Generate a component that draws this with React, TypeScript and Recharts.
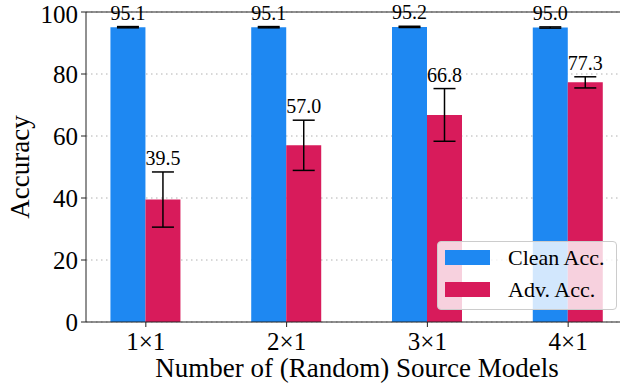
import { Bar, BarChart, CartesianGrid, ErrorBar, LabelList, Legend, ReferenceLine, XAxis, YAxis } from "recharts";

const CATEGORIES = ["1×1", "2×1", "3×1", "4×1"];
const CLEAN_ACC = [95.1, 95.1, 95.2, 95.0];
const CLEAN_ERR = [0.2, 0.2, 0.2, 0.2];
const ADV_ACC = [39.5, 57.0, 66.8, 77.3];
const ADV_ERR = [8.9, 8.1, 8.5, 1.8];
const Y_TICKS = [0, 20, 40, 60, 80, 100];
const SERIES_ORDER = ["Clean Acc.", "Adv. Acc."];

const BLUE = "#1e88f2";
const RED = "#d81b5b";
const FONT = "'Liberation Serif', 'DejaVu Serif', serif";

const data = CATEGORIES.map((c, i) => ({
  x: i,
  name: c,
  clean: CLEAN_ACC[i],
  cleanErr: CLEAN_ERR[i],
  adv: ADV_ACC[i],
  advErr: ADV_ERR[i],
}));

// label sits above the top of the error bar
function valueLabel(errs: number[]) {
  return (props: any) => {
    const { x, y, width, height, value, index } = props;
    const perUnit = height / value;
    const top = y - errs[index] * perUnit;
    return (
      <text x={x + width / 2} y={top - 7} textAnchor="middle" fontSize={20} fontFamily={FONT} fill="#000">
        {Number(value).toFixed(1)}
      </text>
    );
  };
}

function LegendBox({ payload }: any) {
  const items = [...(payload || [])].sort(
    (a: any, b: any) => SERIES_ORDER.indexOf(a.value) - SERIES_ORDER.indexOf(b.value)
  );
  return (
    <div
      style={{
        background: "rgba(255,255,255,0.8)",
        border: "1px solid #cccccc",
        borderRadius: 4,
        padding: "0 11px 4px 7px",
        fontFamily: FONT,
        fontSize: 22,
      }}
    >
      {items.map((p: any) => (
        <div key={p.value} style={{ display: "flex", alignItems: "center", height: 31.5, lineHeight: "31.5px" }}>
          <span style={{ display: "inline-block", width: 45, height: 15, background: p.color, marginRight: 18 }} />
          <span>{p.value}</span>
        </div>
      ))}
    </div>
  );
}

export default function App() {
  return (
    <div style={{ position: "absolute", left: 0, top: 0, width: 620, height: 383, overflow: "hidden", background: "#fff" }}>
      <BarChart width={640} height={383} data={data} margin={{ top: 12, right: 12, bottom: 0, left: 0 }} barGap={0}>
        <CartesianGrid vertical={false} stroke="#b0b0b0" strokeDasharray="1.5 3.5" />
        <ReferenceLine y={100} stroke="#222" strokeWidth={1} />
        <XAxis
          type="number"
          dataKey="x"
          domain={[-0.425, 3.425]}
          ticks={[0, 1, 2, 3]}
          tickFormatter={(v: number) => CATEGORIES[v]}
          interval={0}
          height={61}
          stroke="#222"
          tickSize={5}
          tickMargin={5}
          tick={{ fill: "#000", fontSize: 25, fontFamily: FONT }}
          label={{ value: "Number of (Random) Source Models", position: "insideBottom", offset: 6, fill: "#000", fontSize: 27, fontFamily: FONT }}
        />
        <YAxis
          domain={[0, 100]}
          ticks={Y_TICKS}
          width={86}
          stroke="#222"
          tickSize={5}
          tickMargin={3}
          tick={{ fill: "#000", fontSize: 25, fontFamily: FONT }}
          label={{ value: "Accuracy", angle: -90, position: "insideLeft", offset: 19, fill: "#000", fontSize: 27, fontFamily: FONT, style: { textAnchor: "middle" } }}
        />
        <Legend
          layout="horizontal"
          verticalAlign="middle"
          align="center"
          content={<LegendBox />}
          wrapperStyle={{ position: "absolute", left: 437, top: 241, width: "auto" }}
        />
        <Bar dataKey="clean" name="Clean Acc." fill={BLUE} barSize={35} isAnimationActive={false}>
          <ErrorBar dataKey="cleanErr" width={11} stroke="#000" strokeWidth={1.5} />
          <LabelList dataKey="clean" content={valueLabel(CLEAN_ERR)} />
        </Bar>
        <Bar dataKey="adv" name="Adv. Acc." fill={RED} barSize={35} isAnimationActive={false}>
          <ErrorBar dataKey="advErr" width={11} stroke="#000" strokeWidth={1.5} />
          <LabelList dataKey="adv" content={valueLabel(ADV_ERR)} />
        </Bar>
      </BarChart>
    </div>
  );
}
